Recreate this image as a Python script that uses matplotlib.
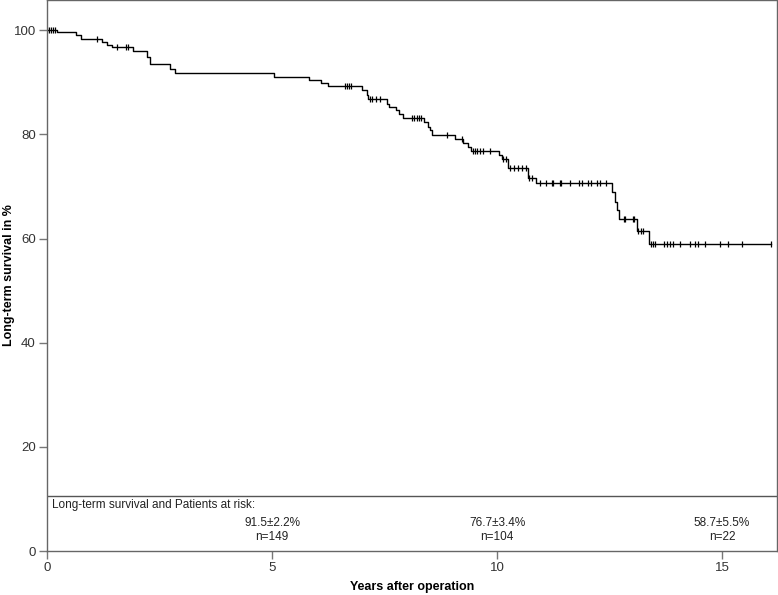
import numpy as np
import matplotlib
matplotlib.use('Agg')
import matplotlib.pyplot as plt

plt.rcParams['font.family'] = ['Liberation Sans', 'DejaVu Sans']

# Kaplan-Meier steps: (years, survival in % after the event)
event_times = [0.22, 0.64, 0.75, 1.23, 1.33, 1.44, 1.92, 2.22, 2.29, 2.73, 2.84,
               5.04, 5.83, 6.08, 6.25, 6.99, 7.10, 7.14, 7.55, 7.60, 7.76, 7.83,
               7.92, 8.38, 8.47, 8.51, 8.55, 9.07, 9.25, 9.36, 9.42, 10.05, 10.10,
               10.24, 10.68, 10.86, 12.55, 12.62, 12.67, 12.72, 13.10, 13.38]
event_surv = [99.6, 99.1, 98.4, 97.7, 97.2, 96.8, 96.0, 94.9, 93.6, 92.6, 91.7,
              91.1, 90.5, 89.8, 89.3, 88.5, 87.5, 86.7, 85.9, 85.3, 84.6, 84.0,
              83.2, 82.4, 81.4, 80.8, 79.8, 79.2, 78.4, 77.6, 76.9, 76.0, 75.3,
              73.6, 71.7, 70.6, 69.0, 67.0, 65.5, 63.7, 61.5, 58.9]
last_time = 16.08

censor_times = [0.0, 0.05, 0.09, 0.13, 0.18, 1.12, 1.55, 1.76, 1.79,
                6.62, 6.67, 6.71, 6.76, 7.18, 7.22, 7.31, 7.40,
                8.10, 8.16, 8.22, 8.27, 8.31, 8.88, 9.22,
                9.47, 9.51, 9.56, 9.62, 9.69, 9.84, 10.14, 10.19,
                10.29, 10.38, 10.47, 10.56, 10.64, 10.71, 10.77,
                10.96, 11.09, 11.22, 11.25, 11.40, 11.42, 11.61, 11.82, 11.88,
                12.01, 12.09, 12.23, 12.29, 12.42,
                12.81, 12.84, 13.02, 13.04, 13.14, 13.19, 13.25,
                13.42, 13.46, 13.51, 13.70, 13.77, 13.84, 13.92, 14.07, 14.29,
                14.40, 14.47, 14.62, 14.96, 15.14, 15.44, 16.08]

risk_years = [5, 10, 15]
risk_surv = ['91.5±2.2%', '76.7±3.4%', '58.7±5.5%']
risk_n = ['n=149', 'n=104', 'n=22']

x_max = 16.22
y_max = 105.8
table_line = 10.56

step_x = np.concatenate([[0.0], event_times, [last_time]])
step_y = np.concatenate([[100.0], event_surv, [event_surv[-1]]])


def surv_at(t):
    idx = np.searchsorted(event_times, t, side='right')
    return 100.0 if idx == 0 else event_surv[idx - 1]


fig = plt.figure(figsize=(7.78, 5.95), dpi=100)
ax = fig.add_axes([47 / 778, 44 / 595, 730 / 778, 551 / 595])

ax.step(step_x, step_y, where='post', color='black', lw=1.0)
ax.plot(censor_times, [surv_at(t) for t in censor_times], ls='none',
        marker='|', ms=4, mew=0.9, color='black')

# patients at risk box
ax.axhline(table_line, color='#555555', lw=1.0)
ax.text(0.1, 8.8, 'Long-term survival and Patients at risk:', fontsize=8.5,
        ha='left', va='center', color='#222222')
for yr, s, n in zip(risk_years, risk_surv, risk_n):
    ax.text(yr, 5.4, s, fontsize=8.5, ha='center', va='center', color='#222222')
    ax.text(yr, 2.7, n, fontsize=8.5, ha='center', va='center', color='#222222')

ax.set_xlim(0, x_max)
ax.set_ylim(0, y_max)
ax.set_xticks([0, 5, 10, 15])
ax.set_yticks([0, 20, 40, 60, 80, 100])
ax.tick_params(direction='out', length=6, width=1, colors='#777777',
               labelcolor='#333333', labelsize=9.5, pad=2)
for sp in ax.spines.values():
    sp.set_color('#666666')
    sp.set_linewidth(1.0)

fig.text(412 / 778, 1 - 587 / 595, 'Years after operation', fontsize=9,
         fontweight='bold', ha='center', va='center')
fig.text(9 / 778, 1 - 275 / 595, 'Long-term survival in %', fontsize=9,
         fontweight='bold', ha='center', va='center', rotation=90)

fig.savefig('out.png', dpi=100)
